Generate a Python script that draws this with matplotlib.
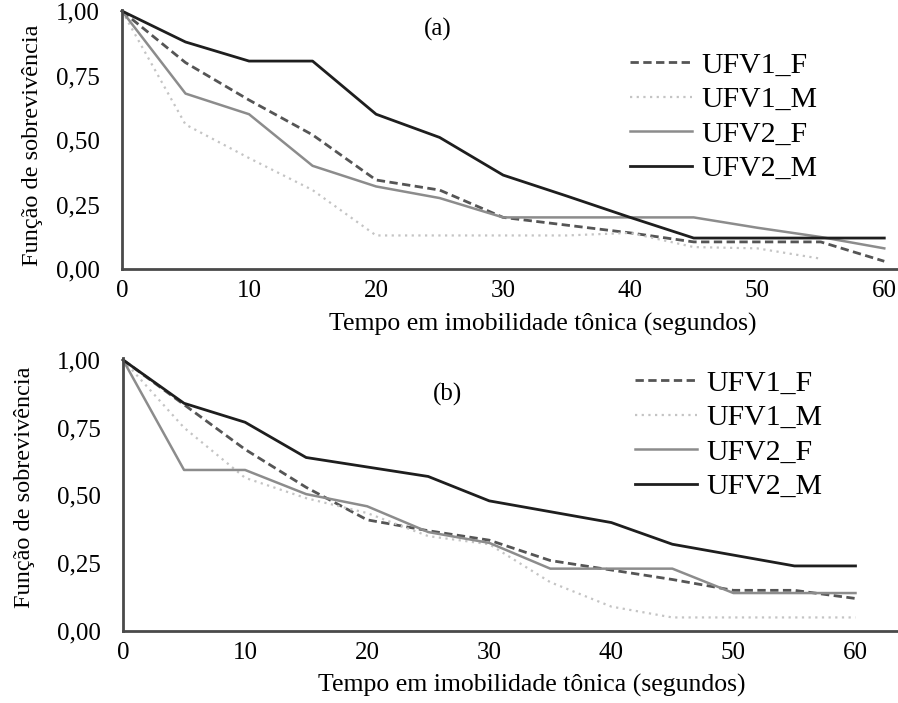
import numpy as np
import matplotlib
matplotlib.use('Agg')
import matplotlib.pyplot as plt

plt.rcParams['font.family'] = ['Liberation Serif', 'DejaVu Serif']

# Tempo (s)
tempo = [0, 5, 10, 15, 20, 25, 30, 35, 40, 45, 50, 55, 60]
series_names = ['UFV1_F', 'UFV1_M', 'UFV2_F', 'UFV2_M']

# (a)
a_ufv1_f = [1.0, 0.80, 0.655, 0.52, 0.345, 0.306, 0.20, 0.17, 0.14, 0.105, 0.105, 0.105, 0.03]
a_ufv1_m = [1.0, 0.56, 0.43, 0.306, 0.13, 0.13, 0.13, 0.13, 0.14, 0.085, 0.08, 0.04, np.nan]
a_ufv2_f = [1.0, 0.68, 0.60, 0.40, 0.32, 0.275, 0.20, 0.20, 0.20, 0.20, 0.16, 0.124, 0.08]
a_ufv2_m = [1.0, 0.88, 0.806, 0.806, 0.60, 0.51, 0.364, 0.283, 0.20, 0.12, 0.12, 0.12, 0.12]

# (b)
b_ufv1_f = [1.0, 0.835, 0.67, 0.53, 0.41, 0.37, 0.335, 0.26, 0.225, 0.19, 0.15, 0.15, 0.12]
b_ufv1_m = [1.0, 0.75, 0.565, 0.49, 0.435, 0.35, 0.32, 0.18, 0.09, 0.05, 0.05, 0.05, 0.05]
b_ufv2_f = [1.0, 0.594, 0.594, 0.505, 0.46, 0.365, 0.325, 0.23, 0.23, 0.23, 0.14, 0.14, 0.14]
b_ufv2_m = [1.0, 0.84, 0.77, 0.64, 0.605, 0.57, 0.48, 0.44, 0.40, 0.32, 0.28, 0.24, 0.24]

yticks = [0, 0.25, 0.5, 0.75, 1.0]
ytick_labels = ['0,00', '0,25', '0,50', '0,75', '1,00']
xticks = [0, 10, 20, 30, 40, 50, 60]

styles = [
    dict(color='#555555', lw=2.0, ls=(0, (3, 1.6))),
    dict(color='#c4c4c4', lw=1.6, ls=(0, (1, 2))),
    dict(color='#8c8c8c', lw=1.8, ls='-'),
    dict(color='#1e1e1e', lw=2.0, ls='-'),
]

fig = plt.figure(figsize=(8.98, 7.03), dpi=100)
W, H = 898, 703


def setup(ax, data, xmax, ymax, tag, tagxy, legxy, xlab_xy, ylab_xy):
    for vals, name, st in zip(data, series_names, styles):
        ax.plot(tempo, vals, label=name, clip_on=False, **st)
    ax.set_xlim(0, xmax)
    ax.set_ylim(0, ymax)
    for s in ['top', 'right']:
        ax.spines[s].set_visible(False)
    for s in ['left', 'bottom']:
        ax.spines[s].set_color('#4a4a4a')
        ax.spines[s].set_linewidth(2.0)
    ax.set_yticks(yticks)
    ax.set_yticklabels(ytick_labels)
    ax.set_xticks(xticks)
    ax.tick_params(axis='y', length=0, pad=16, labelsize=18)
    ax.tick_params(axis='x', length=0, pad=8, labelsize=18)
    ax.set_xlabel('Tempo em imobilidade tônica (segundos)', fontsize=18.5)
    ax.xaxis.set_label_coords(*xlab_xy)
    ax.set_ylabel('Função de sobrevivência', fontsize=17.5)
    ax.yaxis.set_label_coords(*ylab_xy)
    ax.text(tagxy[0], tagxy[1], tag, transform=ax.transAxes, fontsize=18,
            ha='center', va='center')
    ax.legend(loc='upper left', bbox_to_anchor=legxy, frameon=False,
              fontsize=21.5, handlelength=2.07, handletextpad=0.33,
              labelspacing=0.25, borderpad=0, borderaxespad=0)


# (a): spine x 122..897, y 10..269
ax1 = fig.add_axes([122 / W, 1 - 269 / H, 775 / W, 259 / H])
setup(ax1, [a_ufv1_f, a_ufv1_m, a_ufv2_f, a_ufv2_m], 61.0, 1.004, '(a)',
      ((438 - 122) / 775, (269 - 29) / 259),
      ((630 - 122) / 775, (269 - 52) / 259),
      ((543 - 122) / 775, -(313 - 269) / 259),
      ((43 - 122) / 775, (269 - 145) / 259))

# (b): spine x 123..897, y 358..631
ax2 = fig.add_axes([123 / W, 1 - 631 / H, 774 / W, 273 / H])
setup(ax2, [b_ufv1_f, b_ufv1_m, b_ufv2_f, b_ufv2_m], 63.4, 1.007, '(b)',
      ((447 - 123) / 774, (631 - 394) / 273),
      ((635 - 123) / 774, (631 - 370) / 273),
      ((532 - 123) / 774, -(674 - 631) / 273),
      ((35 - 123) / 774, (631 - 487) / 273))

fig.savefig('out.png', dpi=100)
